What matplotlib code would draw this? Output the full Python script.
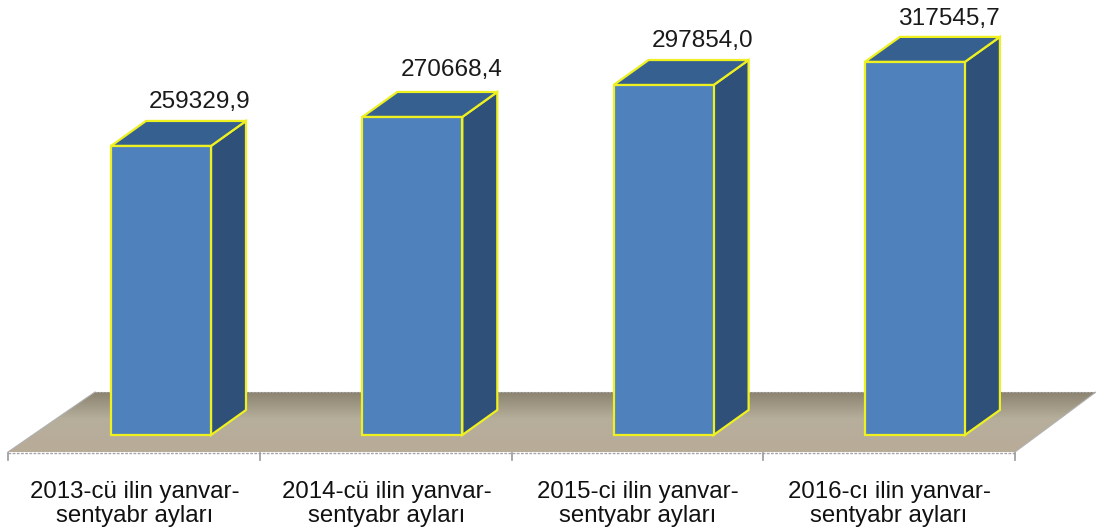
import numpy as np
import matplotlib
matplotlib.use("Agg")
import matplotlib.pyplot as plt
from matplotlib.patches import Polygon

plt.rcParams['font.family'] = ['Liberation Sans', 'DejaVu Sans']

categories = ["2013-cü ilin yanvar-\nsentyabr ayları",
              "2014-cü ilin yanvar-\nsentyabr ayları",
              "2015-ci ilin yanvar-\nsentyabr ayları",
              "2016-cı ilin yanvar-\nsentyabr ayları"]
# Bar heights as they are drawn in the picture
drawn_heights = [246000, 270668.4, 297854.0, 317545.7]
value_labels = ["259329,9", "270668,4", "297854,0", "317545,7"]

W, H = 1096, 532
PX_X = 251.3            # pixels per category
PX_Y = 0.001175         # pixels per value unit
X0, Y0 = 161, 435       # pixel of category 0 bar centre / zero line

fig = plt.figure(figsize=(W/100, H/100), dpi=100)
ax = fig.add_axes([0, 0, 1, 1])
ax.set_xlim(-X0/PX_X, (W-X0)/PX_X)
ax.set_ylim((Y0-H)/PX_Y, Y0/PX_Y)
ax.axis('off')

bar_w = 100/PX_X
dx, dy = 35/PX_X, 25/PX_Y
edge = '#eef020'

# floor
fx = lambda p: (p-X0)/PX_X
fy = lambda p: (Y0-p)/PX_Y
floor = [(fx(8), fy(452)), (fx(95), fy(392)), (fx(1096), fy(392)), (fx(1015), fy(452))]
poly = Polygon(floor, closed=True, fc='none', ec='none')
ax.add_patch(poly)
c0 = np.array([0x8c, 0x84, 0x70])/255
c1 = np.array([0xb6, 0xaf, 0x9c])/255
c2 = np.array([0xb9, 0xab, 0x98])/255
t = np.linspace(0, 1, 60)[:, None, None]
img = np.where(t < 0.45, c0+(c1-c0)*(t/0.45), c1+(c2-c1)*((t-0.45)/0.55))
im = ax.imshow(img, extent=[fx(8), fx(1096), fy(452), fy(392)], aspect='auto', zorder=1, origin='upper')
im.set_clip_path(poly)
ax.set_xlim(-X0/PX_X, (W-X0)/PX_X)
ax.set_ylim((Y0-H)/PX_Y, Y0/PX_Y)

# floor outline and axis ticks
ax.plot([fx(95), fx(1096)], [fy(392)]*2, color='#a5a5a5', lw=0.8, ls=(0, (2, 1)), zorder=2)
ax.plot([fx(8), fx(95)], [fy(452), fy(392)], color='#b0b0b0', lw=0.8, zorder=2)
ax.plot([fx(1015), fx(1096)], [fy(452), fy(392)], color='#b0b0b0', lw=0.8, zorder=2)
ax.plot([fx(8), fx(1015)], [fy(453)]*2, color='#a5a5a5', lw=1.0, ls=(0, (2, 1)), zorder=2)
for i in range(len(categories)+1):
    x = fx(8) + i*(fx(1015)-fx(8))/len(categories)
    ax.plot([x, x], [fy(453), fy(460)], color='#999999', lw=1.2, zorder=2)

label_dx = [39, 39, 39, 34]
label_gap = [19, 22, 19, 18]
for i, v in enumerate(drawn_heights):
    l, r = i-bar_w/2, i+bar_w/2
    ax.add_patch(Polygon([(r, 0), (r+dx, dy), (r+dx, v+dy), (r, v)], fc='#2f5079', ec=edge, lw=1.6, zorder=3))
    ax.add_patch(Polygon([(l, v), (l+dx, v+dy), (r+dx, v+dy), (r, v)], fc='#36608f', ec=edge, lw=1.6, zorder=3))
    ax.add_patch(Polygon([(l, 0), (r, 0), (r, v), (l, v)], fc='#4f81bd', ec=edge, lw=1.6, zorder=4))
    ax.text(i+label_dx[i]/PX_X, v+dy+label_gap[i]/PX_Y, value_labels[i],
            ha='center', va='center', fontsize=17.6, color='#1a1a1a', zorder=5)
    ax.text(i-0.103, fy(481), categories[i], ha='center', va='top', fontsize=17.3,
            color='#111111', linespacing=1.14, zorder=5)

fig.savefig('out.png', dpi=100)
